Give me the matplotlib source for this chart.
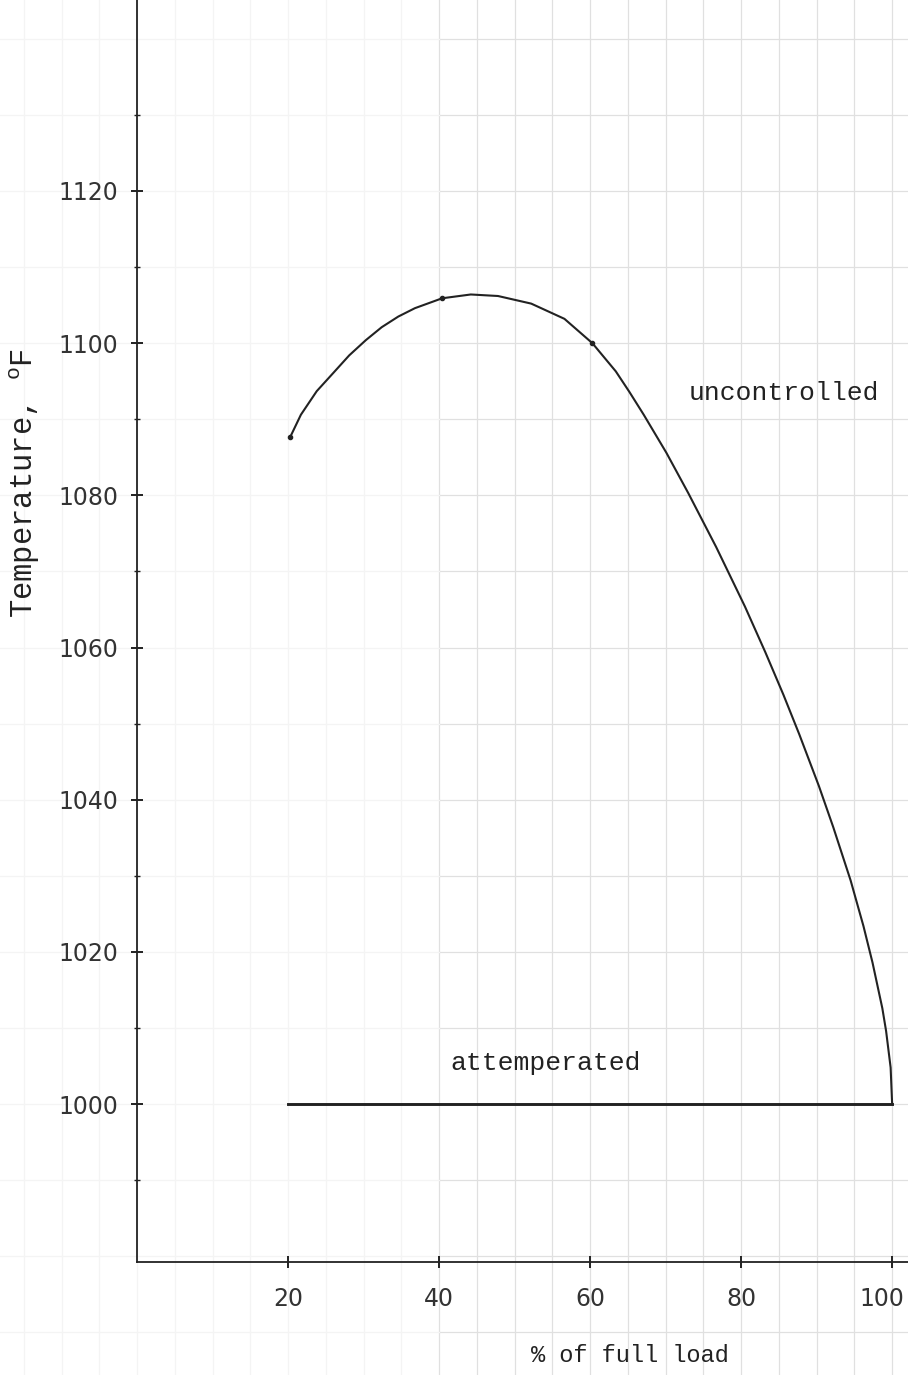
# Superheated steam temperature vs load: uncontrolled and attemperated
import numpy as np
import matplotlib
matplotlib.use('Agg')
import matplotlib.pyplot as plt
from matplotlib.transforms import ScaledTranslation

plt.rcParams['mathtext.fontset'] = 'custom'
plt.rcParams['mathtext.rm'] = 'Liberation Mono'

# values (scan tilt taken out)
uncontrolled_load = [20.3, 21.7, 23.8, 26.0, 28.1, 30.3, 32.4, 34.6, 36.8, 40.4, 44.2, 47.8,
                     52.2, 56.6, 60.3, 63.4, 65.2, 67.1, 70.1, 73.0, 76.7, 80.5, 83.2,
                     85.6, 87.7, 90.3, 92.2, 94.5, 96.2, 97.4, 98.7, 99.2, 99.8, 100.0]
uncontrolled_temp = [1087.7, 1090.6, 1093.7, 1096.1, 1098.4, 1100.4, 1102.1, 1103.5, 1104.6,
                     1105.9, 1106.4, 1106.2, 1105.2, 1103.2, 1100.0, 1096.3, 1093.6, 1090.6,
                     1085.6, 1080.3, 1073.2, 1065.4, 1059.4, 1053.8, 1048.6, 1041.8, 1036.4,
                     1029.4, 1023.4, 1018.6, 1012.6, 1009.6, 1004.8, 1000.0]
marked_idx = [0, 9, 14]

attemperated_load = [20, 100]
attemperated_temp = [1000, 1000]

x_ticks = [20, 40, 60, 80, 100]
y_ticks = [1000, 1020, 1040, 1060, 1080, 1100, 1120]

ink = '#222222'
label_font = 'Liberation Mono'

fig = plt.figure(figsize=(9.08, 13.75), dpi=100)
ax = fig.add_axes([0, 0, 1, 1])
x_lo, x_hi = -18.15, 102.1
y_lo, y_hi = 964.4, 1145.1
ax.set_xlim(x_lo, x_hi)
ax.set_ylim(y_lo, y_hi)
x_axis_at = 979.2

# faint graph-paper grid showing through the scan
for gx in np.arange(-15, 105, 5):
    c = '#e0e0e0' if gx >= 40 else '#f4f4f4'
    ax.axvline(gx, color=c, lw=0.9, zorder=0)
for gy in np.arange(970, 1150, 10):
    ax.plot([40, x_hi], [gy, gy], color='#e0e0e0', lw=0.9, zorder=0)
    ax.plot([x_lo, 40], [gy, gy], color='#f4f4f4', lw=0.9, zorder=0)

ax.plot(uncontrolled_load, uncontrolled_temp, color=ink, lw=1.5, zorder=3,
        marker='o', markersize=3, markevery=marked_idx)
ax.plot(attemperated_load, attemperated_temp, color=ink, lw=2.1, zorder=3)

ax.text(73.0, 1093.5, 'uncontrolled', family=label_font, fontsize=19,
        va='center', ha='left', color=ink)
ax.text(41.5, 1005.4, 'attemperated', family=label_font, fontsize=19,
        va='center', ha='left', color=ink)

# axes drawn as plain crossing lines
for s in ['top', 'right']:
    ax.spines[s].set_visible(False)
ax.spines['left'].set_position(('data', 0))
ax.spines['bottom'].set_position(('data', x_axis_at))
ax.spines['left'].set_bounds(x_axis_at, y_hi)
ax.spines['bottom'].set_bounds(0, x_hi)
for s in ['left', 'bottom']:
    ax.spines[s].set_color(ink)
    ax.spines[s].set_linewidth(1.3)

ax.set_xticks(x_ticks)
ax.set_yticks(y_ticks)
ax.tick_params(direction='inout', length=9, width=1.4, color=ink,
               labelsize=17, labelcolor='#333333')
ax.tick_params(axis='x', pad=13)
ax.tick_params(axis='y', pad=9)
ax.set_yticks(np.arange(990, 1140, 20), minor=True)
ax.tick_params(which='minor', axis='y', direction='inout', length=4, width=1.0, color=ink)
ax.set_xticks([], minor=True)

# last x label sits a little left of its tick, as in the scan
last = ax.get_xticklabels()[-1]
last.set_transform(last.get_transform() + ScaledTranslation(-10 / 100, 0, fig.dpi_scale_trans))

fig.text(630 / 908, 1 - 1356 / 1375, '% of full load', family=label_font,
         fontsize=17, ha='center', va='center', color=ink)
fig.text(25 / 908, 1 - 483 / 1375, r'Temperature, $^{\mathrm{o}}$F', family=label_font,
         fontsize=22, rotation=90, ha='center', va='center', color=ink)

plt.savefig('out.png', dpi=100)
